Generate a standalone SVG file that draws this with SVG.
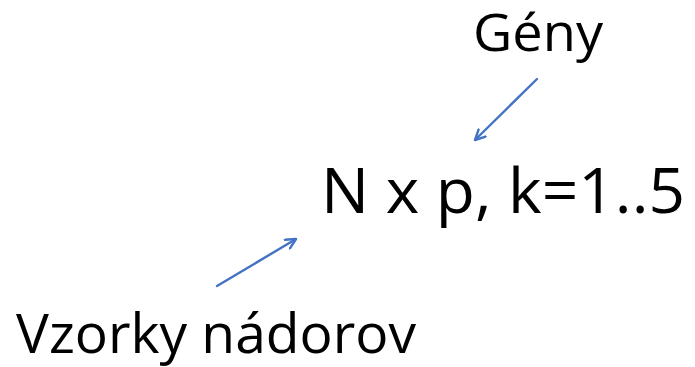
<svg xmlns="http://www.w3.org/2000/svg" width="695" height="367" viewBox="0 0 695 367">
<style>
text{font-family:"Open Sans","Liberation Sans",Arial,sans-serif;fill:#000}
.c{stroke:#4472C4;stroke-width:2.4;fill:none;stroke-linecap:round;stroke-linejoin:round}
</style>
<defs>
<marker id="ah" viewBox="0 0 12 12" refX="11" refY="6" markerWidth="12" markerHeight="12" markerUnits="userSpaceOnUse" orient="auto">
<path d="M1,1 L11,6 L1,11" fill="none" stroke="#4472C4" stroke-width="2.4" stroke-linecap="round" stroke-linejoin="round"/>
</marker>
</defs>
<rect width="695" height="367" fill="#fff"/>
<g id="geny"><text x="473" y="51" font-size="51" textLength="130" lengthAdjust="spacingAndGlyphs">Gény</text></g>
<g id="matrix"><text x="321" y="213" font-size="62" textLength="364" lengthAdjust="spacingAndGlyphs">N x p, k=1..5</text></g>
<g id="vzorky"><text x="16" y="353" font-size="54" textLength="400" lengthAdjust="spacingAndGlyphs">Vzorky nádorov</text></g>
<g id="connectors">
<line class="c" x1="537" y1="79" x2="475" y2="140" marker-end="url(#ah)"/>
<line class="c" x1="217" y1="286" x2="296" y2="239" marker-end="url(#ah)"/>
</g>
</svg>
